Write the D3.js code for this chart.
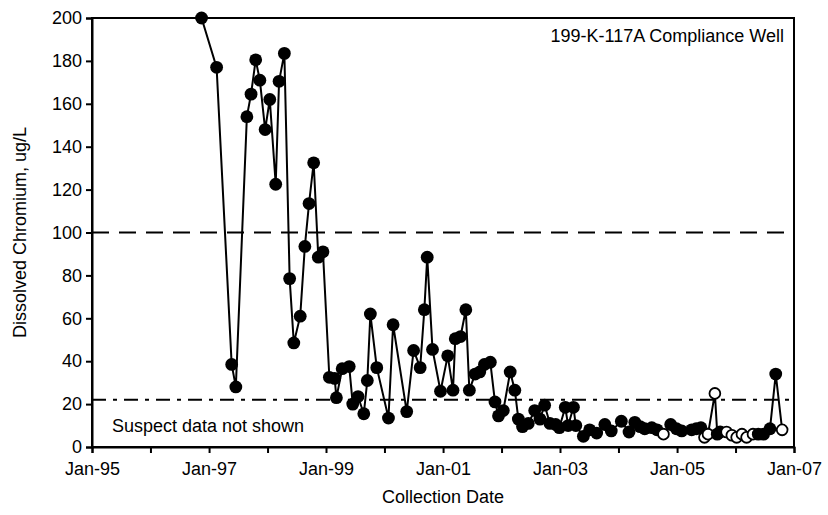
<!DOCTYPE html>
<html>
<head>
<meta charset="utf-8">
<script src="https://cdn.jsdelivr.net/npm/d3@7"></script>
<style>
  body { margin: 0; background: #fff; }
  text { font-family: "Liberation Sans", Arial, sans-serif; fill: #000; }
</style>
</head>
<body>
<div id="chart"></div>
<script>
// sample dates and dissolved chromium (ug/L)
const sampleDates = [
  "1996-11-15", "1997-02-17", "1997-05-22", "1997-06-17", "1997-08-25", "1997-09-20",
  "1997-10-19", "1997-11-14", "1997-12-17", "1998-01-15", "1998-02-21", "1998-03-14",
  "1998-04-16", "1998-05-19", "1998-06-14", "1998-07-24", "1998-08-22", "1998-09-17",
  "1998-10-16", "1998-11-14", "1998-12-13", "1999-01-22", "1999-02-24", "1999-03-07",
  "1999-04-12", "1999-05-26", "1999-06-17", "1999-07-20", "1999-08-25", "1999-09-16",
  "1999-10-05", "1999-11-14", "2000-01-26", "2000-02-24", "2000-05-19", "2000-07-01",
  "2000-08-11", "2000-09-06", "2000-09-24", "2000-10-27", "2000-12-16", "2001-01-30",
  "2001-03-04", "2001-03-18", "2001-04-20", "2001-05-23", "2001-06-14", "2001-07-20",
  "2001-08-18", "2001-09-16", "2001-10-23", "2001-11-21", "2001-12-13", "2002-01-12",
  "2002-02-24", "2002-03-25", "2002-04-16", "2002-05-12", "2002-06-17", "2002-07-27",
  "2002-08-29", "2002-09-27", "2002-10-30", "2002-12-05", "2002-12-28", "2003-02-03",
  "2003-02-21", "2003-03-26", "2003-04-10", "2003-05-27", "2003-07-05", "2003-08-18",
  "2003-10-08", "2003-11-17", "2004-01-19", "2004-03-07", "2004-04-12", "2004-05-15",
  "2004-06-13", "2004-07-27", "2004-08-29", "2004-10-08", "2004-11-22", "2004-12-28",
  "2005-01-30", "2005-04-02", "2005-05-01", "2005-05-30", "2005-06-21", "2005-07-13",
  "2005-08-25", "2005-09-09", "2005-09-27", "2005-11-06", "2005-12-09", "2006-01-08",
  "2006-02-10", "2006-03-11", "2006-04-20", "2006-05-23", "2006-06-25", "2006-08-04",
  "2006-09-09", "2006-10-19"
];
const chromium = [
  200, 177, 38.5, 28, 154, 164.5,
  180.5, 171, 148, 162, 122.5, 170.5,
  183.5, 78.5, 48.5, 61, 93.5, 113.5,
  132.5, 88.5, 91, 32.5, 32, 23,
  36.5, 37.5, 20, 23.5, 15.5, 31,
  62, 37, 13.5, 57, 16.5, 45,
  37, 64, 88.5, 45.5, 26, 42.5,
  26.5, 50.5, 51.5, 64, 26.5, 34,
  35, 38.5, 39.5, 21, 14.5, 17,
  35, 26.5, 13, 9.5, 11, 17,
  13, 19.5, 11, 10.5, 9, 18.5,
  10, 18.5, 10, 5, 8, 6.5,
  10.5, 7.5, 12, 7, 11.5, 9.5,
  8.5, 9, 8, 6, 10.5, 8.5,
  7.5, 8, 8.5, 9, 4.5, 6,
  25, 6, 7, 7, 5.5, 4.5,
  6, 4.5, 6, 6, 6, 8.5,
  34, 8
];
// 1 = non-detect (open symbol)
const nonDetect = [
  0, 0, 0, 0, 0, 0,
  0, 0, 0, 0, 0, 0,
  0, 0, 0, 0, 0, 0,
  0, 0, 0, 0, 0, 0,
  0, 0, 0, 0, 0, 0,
  0, 0, 0, 0, 0, 0,
  0, 0, 0, 0, 0, 0,
  0, 0, 0, 0, 0, 0,
  0, 0, 0, 0, 0, 0,
  0, 0, 0, 0, 0, 0,
  0, 0, 0, 0, 0, 0,
  0, 0, 0, 0, 0, 0,
  0, 0, 0, 0, 0, 0,
  0, 0, 0, 1, 0, 0,
  0, 0, 0, 0, 1, 1,
  1, 0, 0, 1, 1, 1,
  1, 1, 1, 0, 0, 0,
  0, 1
];
const yTicks = [0, 20, 40, 60, 80, 100, 120, 140, 160, 180, 200];
const limitHigh = 100;   // dashed
const limitLow = 22;     // dash-dot
const wellName = "199-K-117A Compliance Well";
const noteText = "Suspect data not shown";

const parseDate = d3.timeParse("%Y-%m-%d");
const data = sampleDates.map((d, i) => ({ date: parseDate(d), value: chromium[i], nd: nonDetect[i] }));

const W = 828, H = 515;
const margin = { top: 18, right: 34, bottom: 68, left: 92 };
const width = W - margin.left - margin.right;
const height = H - margin.top - margin.bottom;
const fontSize = "18px";

const svg = d3.select("#chart").append("svg")
  .attr("width", W)
  .attr("height", H);

const g = svg.append("g")
  .attr("transform", `translate(${margin.left}, ${margin.top})`);

const x = d3.scaleTime()
  .domain([new Date(1995, 0, 1), new Date(2007, 0, 1)])
  .range([0, width]);

const y = d3.scaleLinear()
  .domain([0, 200])
  .range([height, 0]);

// frame
g.append("rect")
  .attr("width", width)
  .attr("height", height)
  .attr("fill", "none")
  .attr("stroke", "#000")
  .attr("stroke-width", 2);

// axes
const xAxis = g.append("g")
  .attr("transform", `translate(0, ${height})`)
  .call(d3.axisBottom(x)
    .ticks(d3.timeYear.every(1))
    .tickSize(6)
    .tickFormat(d => d.getFullYear() % 2 === 1 ? d3.timeFormat("%b-%y")(d) : ""));
xAxis.select(".domain").attr("stroke-width", 2);
xAxis.selectAll(".tick line").attr("stroke-width", 2);
xAxis.selectAll("text")
  .attr("dy", "1.05em")
  .style("font-size", fontSize);

const yAxis = g.append("g")
  .call(d3.axisLeft(y).tickValues(yTicks).tickSize(6).tickPadding(4));
yAxis.select(".domain").attr("stroke-width", 2);
yAxis.selectAll(".tick line").attr("stroke-width", 2);
yAxis.selectAll("text").style("font-size", fontSize);

// reference lines
g.append("line")
  .attr("x1", 0).attr("x2", width)
  .attr("y1", y(limitHigh)).attr("y2", y(limitHigh))
  .attr("stroke", "#000")
  .attr("stroke-width", 2)
  .attr("stroke-dasharray", "17,10");

g.append("line")
  .attr("x1", 0).attr("x2", width)
  .attr("y1", y(limitLow)).attr("y2", y(limitLow))
  .attr("stroke", "#000")
  .attr("stroke-width", 2)
  .attr("stroke-dasharray", "14,7,4,7");

// data line
g.append("path")
  .datum(data)
  .attr("fill", "none")
  .attr("stroke", "#000")
  .attr("stroke-width", 2)
  .attr("d", d3.line().x(d => x(d.date)).y(d => y(d.value)));

// markers
g.selectAll("circle")
  .data(data)
  .enter()
  .append("circle")
  .attr("cx", d => x(d.date))
  .attr("cy", d => y(d.value))
  .attr("r", d => d.nd ? 5.4 : 6.4)
  .attr("fill", d => d.nd ? "#fff" : "#000")
  .attr("stroke", "#000")
  .attr("stroke-width", d => d.nd ? 1.8 : 0);

// annotations
g.append("text")
  .attr("x", width - 10)
  .attr("y", 24)
  .attr("text-anchor", "end")
  .style("font-size", fontSize)
  .text(wellName);

g.append("text")
  .attr("x", 20)
  .attr("y", height - 15)
  .style("font-size", fontSize)
  .text(noteText);

// axis titles
svg.append("text")
  .attr("x", margin.left + width / 2)
  .attr("y", H - 12)
  .attr("text-anchor", "middle")
  .style("font-size", fontSize)
  .text("Collection Date");

svg.append("text")
  .attr("transform", `translate(26, ${margin.top + height / 2}) rotate(-90)`)
  .attr("text-anchor", "middle")
  .style("font-size", fontSize)
  .text("Dissolved Chromium, ug/L");
</script>
</body>
</html>
